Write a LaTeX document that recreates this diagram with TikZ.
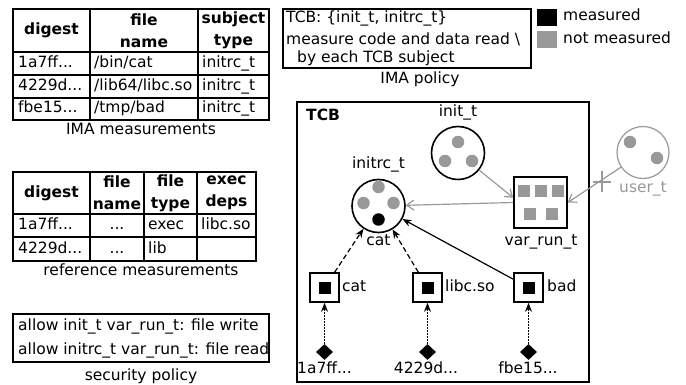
\documentclass[tikz,border=0pt]{standalone}
\usepackage{fontspec}
\setmainfont{DejaVu Sans}
\usetikzlibrary{arrows.meta,shapes.geometric}
\newcommand\myfs{\fontsize{15.5pt}{22pt}\selectfont}
\definecolor{gr}{HTML}{999999}
\begin{document}
\begin{tikzpicture}[x=1pt,y=-1pt,
  every node/.style={inner sep=0pt, font=\myfs},
  txt/.style={text height=11.5pt, text depth=3.5pt},
  hd/.style={font=\myfs\bfseries, align=center},
  tbl/.style={line width=1.6pt},
  dotg/.style={circle, fill=gr, minimum size=12.5pt, inner sep=0pt},
  dotb/.style={circle, fill=black, minimum size=12.5pt, inner sep=0pt},
  sqg/.style={fill=gr, minimum size=12pt, inner sep=0pt},
  proc/.style={circle, draw, line width=1.6pt, minimum size=53pt},
  fbox/.style={draw, line width=1.6pt, minimum size=29pt},
  dia/.style={diamond, fill=black, minimum width=17pt, minimum height=16pt, inner sep=0pt},
  garrow/.style={draw=gr, line width=1.2pt, -{Straight Barb[length=7pt,width=10pt]}},
  dasharrow/.style={line width=1.2pt, dash pattern=on 5pt off 3pt, -{Stealth[length=9pt,width=7pt]}},
  solidarrow/.style={line width=1.2pt, -{Stealth[length=9pt,width=7pt]}},
  dotarrow/.style={line width=1.5pt, dash pattern=on 1.5pt off 1.5pt, -{Stealth[length=9pt,width=7pt]}}
]
\useasboundingbox (0,0) rectangle (686,385);

% ---------- IMA measurements table
\draw[tbl] (13,9) rectangle (269,120);
\foreach \y in {52,75,98} \draw[tbl] (13,\y) -- (269,\y);
\foreach \x in {90,198} \draw[tbl] (\x,9) -- (\x,120);
\node[hd,txt] (t1h1) at (51.5,30.5) {digest};
\node[hd] (t1h2) at (144,30.5) {file\\name};
\node[hd] (t1h3) at (233.5,30.5) {subject\\type};
\node[txt,anchor=west] (t1a1) at (18,63.5) {1a7ff...};
\node[txt,anchor=west] (t1a2) at (94,63.5) {/bin/cat};
\node[txt,anchor=west] (t1a3) at (202,63.5) {initrc\_t};
\node[txt,anchor=west] (t1b1) at (18,86.5) {4229d...};
\node[txt,anchor=west] (t1b2) at (94,86.5) {/lib64/libc.so};
\node[txt,anchor=west] (t1b3) at (202,86.5) {initrc\_t};
\node[txt,anchor=west] (t1c1) at (18,109) {fbe15...};
\node[txt,anchor=west] (t1c2) at (94,109) {/tmp/bad};
\node[txt,anchor=west] (t1c3) at (202,109) {initrc\_t};
\node[txt] (cap1) at (141,131) {IMA measurements};

% ---------- reference measurements table
\draw[tbl] (13,172) rectangle (256,261);
\foreach \y in {214,237} \draw[tbl] (13,\y) -- (256,\y);
\foreach \x in {90,144,197} \draw[tbl] (\x,172) -- (\x,261);
\node[hd,txt] (t2h1) at (51.5,193) {digest};
\node[hd] (t2h2) at (117,193) {file\\name};
\node[hd] (t2h3) at (170.5,193) {file\\type};
\node[hd] (t2h4) at (226.5,193) {exec\\deps};
\node[txt,anchor=west] (t2a1) at (18,225.5) {1a7ff...};
\node[txt] (t2a2) at (117,225.5) {...};
\node[txt,anchor=west] (t2a3) at (148,225.5) {exec};
\node[txt,anchor=west] (t2a4) at (201,225.5) {libc.so};
\node[txt,anchor=west] (t2b1) at (18,249) {4229d...};
\node[txt] (t2b2) at (117,249) {...};
\node[txt,anchor=west] (t2b3) at (148,249) {lib};
\node[txt] (cap2) at (141,272) {reference measurements};

% ---------- security policy
\draw[tbl] (13,314) rectangle (269,362);
\node[txt,anchor=west] (sp1) at (18,326) {allow init\_t var\_run\_t: file write};
\node[txt,anchor=west] (sp2) at (18,350) {allow initrc\_t var\_run\_t: file read};
\node[txt] (cap3) at (141,376) {security policy};

% ---------- IMA policy
\draw[tbl] (283,9) rectangle (531,68);
\node[txt,anchor=west] (ip1) at (286,19) {TCB: \{init\_t, initrc\_t\}};
\node[txt,anchor=west] (ip2) at (286,41) {measure code and data read \textbackslash};
\node[txt,anchor=west] (ip3) at (297,59) {by each TCB subject};
\node[txt] (cap4) at (420,80) {IMA policy};

% ---------- legend
\fill (537,9) rectangle (557,26);
\fill[gr] (537,31) rectangle (557,48);
\node[txt,anchor=west] (lg1) at (563,17) {measured};
\node[txt,anchor=west] (lg2) at (563,40) {not measured};

% ---------- TCB
\draw[line width=1.6pt] (297,102) rectangle (589,382);
\node[txt,anchor=west,font=\myfs\bfseries] (tcb) at (306,117) {TCB};

% init_t
\node[proc] (init) at (458,153) {};
\node[txt] (initl) at (458,113) {init\_t};
\node[dotg] at (458,142) {};
\node[dotg] at (445,161) {};
\node[dotg] at (472,161) {};

% initrc_t
\node[proc] (initrc) at (378.5,206) {};
\node[txt] (initrcl) at (378.5,165) {initrc\_t};
\node[txt] (catl) at (378.5,241) {cat};
\node[dotg] at (378.5,187) {};
\node[dotg] at (363.5,203) {};
\node[dotg] at (393.5,203) {};
\node[dotb] at (378.5,219.5) {};

% var_run_t
\node[draw, line width=1.6pt, minimum width=53pt, minimum height=51pt] (vr) at (540.5,202.5) {};
\node[txt] (vrl) at (541,241) {var\_run\_t};
\node[sqg] at (524,191) {};
\node[sqg] at (541,191) {};
\node[sqg] at (558,191) {};
\node[sqg] at (530,214) {};
\node[sqg] at (552,214) {};

% user_t
\node[circle, draw=gr, line width=1.2pt, minimum size=52pt] (ut) at (643,152.5) {};
\node[txt,text=gr] (utl) at (643,189) {user\_t};
\node[dotg] at (630,142) {};
\node[dotg] at (657,158) {};

% files
\node[fbox] (fcat) at (324.5,287.5) {};
\node[fbox] (flibc) at (427.5,287.5) {};
\node[fbox] (fbad) at (528.5,287.5) {};
\fill (318.5,281.5) rectangle (330.5,293.5);
\fill (421.5,281.5) rectangle (433.5,293.5);
\fill (522.5,281.5) rectangle (534.5,293.5);
\node[txt,anchor=west] (fcatl) at (342,287.5) {cat};
\node[txt,anchor=west] (flibcl) at (445,287.5) {libc.so};
\node[txt,anchor=west] (fbadl) at (547,287.5) {bad};

% digests
\node[dia] (d1) at (324.5,352) {};
\node[dia] (d2) at (427.5,352) {};
\node[dia] (d3) at (528.5,352) {};
\node[txt] (d1l) at (324.5,369) {1a7ff...};
\node[txt] (d2l) at (426,369) {4229d...};
\node[txt] (d3l) at (528,369) {fbe15...};

% connectors
\draw[garrow] (init) -- (vr.170);
\draw[garrow] (vr.west) -- (initrc);
\draw[garrow] (ut) -- (vr.east);
\coordinate (xm) at (602,182);
\draw[gr, line width=1.2pt] ([yshift=-10pt]xm) -- ([yshift=11pt]xm);
\draw[gr, line width=1.2pt] ([xshift=-9pt]xm) -- ([xshift=9pt]xm);

\draw[dasharrow] (fcat) -- (initrc);
\draw[dasharrow] (flibc) -- (initrc);
\draw[solidarrow] (fbad) -- (initrc);
\draw[dotarrow] (d1) -- (fcat);
\draw[dotarrow] (d2) -- (flibc);
\draw[dotarrow] (d3) -- (fbad);
\end{tikzpicture}
\end{document}
